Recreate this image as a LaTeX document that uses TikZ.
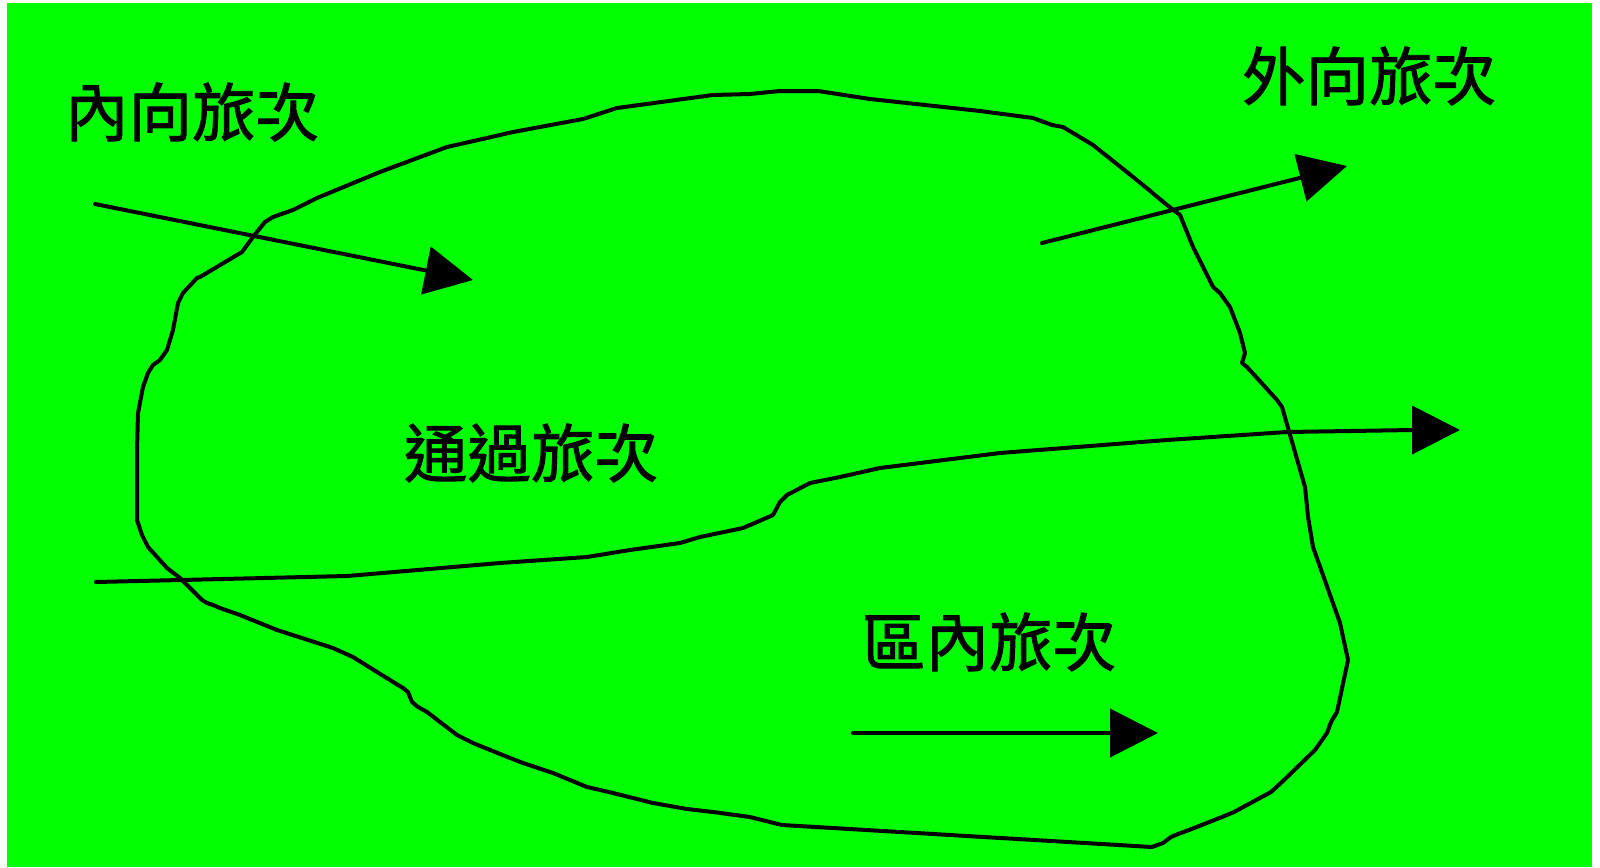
\documentclass[tikz,border=0pt]{standalone}
\usepackage{fontspec}
\setmainfont{Noto Sans CJK TC}[FakeBold=1.5]
\usetikzlibrary{arrows.meta}
\definecolor{bggreen}{RGB}{0,255,0}
\begin{document}
\begin{tikzpicture}[x=1pt,y=-1pt,
  stroke/.style={line width=4pt, line join=round, line cap=round},
  arr/.style={stroke, -{Triangle[length=48pt,width=48pt]}},
  lbl/.style={inner sep=0pt, font=\fontsize{63.5}{70}\selectfont}]
\useasboundingbox (0,0) rectangle (1600,867);
\fill[bggreen] (7,3) rectangle (1592,867);
% zone boundary
\draw[stroke] (202,600) -- (180,578) -- (167,568) -- (148,547) -- (142,535) -- (137,520)
  -- (137,450) -- (138,413) -- (143,387) -- (148,373) -- (153,365) -- (160,360) -- (167,350)
  -- (173,330) -- (178,303) -- (183,293) -- (197,278) -- (200,277) -- (242,252) -- (253,237)
  -- (265,222) -- (273,217) -- (293,210) -- (317,198) -- (380,172) -- (447,147) -- (487,138)
  -- (513,132) -- (583,119) -- (617,108) -- (713,95) -- (750,94) -- (780,91) -- (818,91)
  -- (870,99) -- (980,111) -- (1033,118) -- (1052,125) -- (1063,127) -- (1093,145)
  -- (1143,185) -- (1167,205) -- (1180,215) -- (1193,247) -- (1213,287) -- (1220,293)
  -- (1230,307) -- (1240,333) -- (1245,353) -- (1242,363) -- (1247,367) -- (1277,400)
  -- (1282,407) -- (1305,487) -- (1308,517) -- (1313,547) -- (1340,623) -- (1348,660)
  -- (1337,712) -- (1331,722) -- (1327,733) -- (1315,750) -- (1283,781) -- (1271,792)
  -- (1234,812) -- (1222,817) -- (1189,830) -- (1178,834) -- (1171,837) -- (1163,843)
  -- (1152,847) -- (782,825) -- (750,817) -- (713,812) -- (687,809) -- (653,803)
  -- (613,793) -- (587,787) -- (553,773) -- (523,763) -- (510,758) -- (473,743) -- (457,735)
  -- (427,712) -- (418,707) -- (412,702) -- (408,692) -- (403,688) -- (377,672) -- (353,657)
  -- (333,648) -- (277,630) -- (240,615) -- (220,608) -- (213,605) -- (207,603) -- cycle;
% labels
\node[lbl] (inlbl) at (192,112) {內向旅次};
\node[lbl] (outlbl) at (1369,76) {外向旅次};
\node[lbl] (thrulbl) at (531,453) {通過旅次};
\node[lbl] (intralbl) at (989,642) {區內旅次};
% arrow end points
\coordinate (inS) at (95,204);
\coordinate (inE) at (473,280);
\coordinate (outS) at (1042,243);
\coordinate (outE) at (1347,166);
\coordinate (thS) at (96,582);
\coordinate (thE) at (1460,430);
\coordinate (izS) at (853,733);
\coordinate (izE) at (1158,733);
\draw[arr] (inS) -- (inE);
\draw[arr] (outS) -- (outE);
\draw[arr] (izS) -- (izE);
\draw[arr] (thS) -- (223,579) -- (347,576) -- (500,563) -- (587,557) -- (630,550) -- (680,543)
  -- (700,537) -- (743,528) -- (757,522) -- (773,515) -- (780,502) -- (787,495) -- (810,483)
  -- (840,477) -- (880,468) -- (1000,453) -- (1167,440) -- (1287,432) -- (1413,430) -- (thE);
\end{tikzpicture}
\end{document}
